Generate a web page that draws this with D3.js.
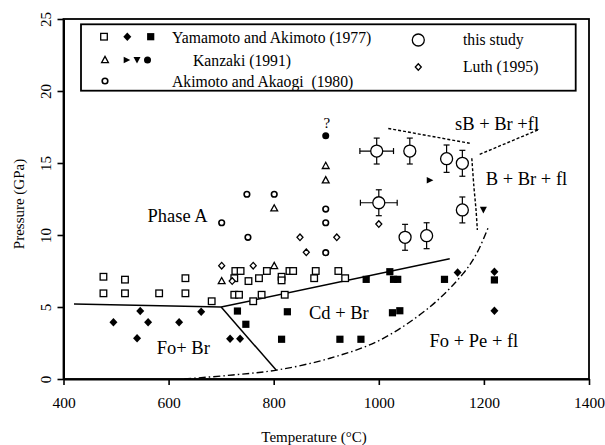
<!DOCTYPE html>
<html><head><meta charset="utf-8">
<script src="https://cdn.jsdelivr.net/npm/d3@7"></script>
<style>body{margin:0;background:#fff}svg{display:block;font-family:"Liberation Serif","Times New Roman",serif}</style>
</head><body><svg id="c" width="605" height="445"></svg>
<script>
// ---- data ----
const xTicks=[400,600,800,1000,1200,1400];
const yTicks=[0,5,10,15,20,25];
const yamaOpenSquares=[[476,7.1],[476,5.95],[517,6.9],[517,5.95],[582,5.95],[632,7.0],[632,5.95],[682,5.4],[725,5.85],[734,5.85],[727,7.5],[737,7.5],[725,7.0],[752,6.8],[761,5.4],[772,7.0],[777,5.85],[787,7.5],[815,7.1],[815,6.85],[821,5.85],[830,7.5],[837,7.5],[877,7.0],[880,7.5],[923,7.5],[936,7.0]];
const yamaDiamonds=[[495,3.94],[546,4.72],[540,2.83],[561,3.94],[620,3.94],[662,4.67],[717,2.8],[736,2.8],[1150,7.4],[1220,7.45],[1220,4.74]];
const yamaFilledSquares=[[731,4.72],[747,3.8],[815,2.76],[826,4.67],[926,2.76],[966,2.76],[976,6.92],[1021,7.45],[1028,6.92],[1036,6.92],[1026,4.6],[1040,4.74],[1125,6.92],[1220,6.88]];
const kanzakiOpenTriangles=[[899,14.8],[899,13.8],[801,11.85],[801,7.85],[701,6.8]];
const kanzakiRightTriangles=[[1097,13.8]];
const kanzakiDownTriangles=[[1199,11.75]];
const kanzakiFilledCircles=[[899,16.9]];
const akimotoOpenCircles=[[749,12.83],[801,12.83],[701,10.85],[899,10.85],[899,11.8],[751,9.84],[899,8.77]];
const luthDiamonds=[[701,7.87],[761,7.87],[850,9.84],[862,8.8],[920,9.84],[721,6.8],[1000,10.76]];
// this study: [T, P, T error, P error]
const thisStudy=[[996,15.83,32,0.9],[1059,15.83,0,0.9],[1129,15.3,0,0.95],[1159,14.98,0,0.9],[1000,12.24,35,0.9],[1159,11.74,0,0.9],[1050,9.84,0,0.9],[1091,9.95,0,0.9]];
// phase boundaries
const solidA=[[420,5.2],[700,5.0]];
const solidB=[[700,5.0],[805,0.6]];
const solidC=[[700,5.0],[1135,8.35]];
const dashDotCurve=[[630,0.0],[722,0.28],[806,0.62],[907,1.44],[1002,2.7],[1097,5.0],[1160,7.3],[1186,8.7],[1208,10.5]];
const dashedTop=[[1018,17.4],[1173,16.37]];
const dashedRight=[[1192,15.6],[1303,17.3]];
const dashedVert=[[1177,15.33],[1181,13.35],[1185,11.74],[1187.5,10.35]];
const regionLabels=[["Phase A",617,10.9],["Fo+ Br",628,1.74],["Cd + Br",924,4.17],["Fo + Pe + fl",1181,2.22],["B + Br + fl",1281,13.47],["sB + Br +fl",1225,17.3],["?",901,17.43]];

// ---- chart ----
const svg=d3.select("#c");
const x=d3.scaleLinear().domain([400,1400]).range([63.5,589]);
const y=d3.scaleLinear().domain([0,25]).range([379,19]);

// frame
svg.append("rect").attr("x",x(400)).attr("y",y(25)).attr("width",x(1400)-x(400)).attr("height",y(0)-y(25))
  .attr("fill","none").attr("stroke","#000").attr("stroke-width",1.8);

const xa=svg.append("g").attr("transform",`translate(0,${y(0)})`)
  .call(d3.axisBottom(x).tickValues(xTicks).tickSize(6).tickSizeOuter(0).tickFormat(d3.format("d")));
xa.select(".domain").attr("stroke-width",2);
xa.selectAll(".tick line").attr("stroke-width",1.6);
xa.selectAll("text").attr("font-size",15.5).attr("font-family","Liberation Serif").attr("fill","#000").attr("y",18).attr("dy","0.71em");

const ya=svg.append("g").attr("transform",`translate(${x(400)},0)`)
  .call(d3.axisLeft(y).tickValues(yTicks).tickSize(6).tickSizeOuter(0));
ya.select(".domain").attr("stroke-width",2);
ya.selectAll(".tick line").attr("stroke-width",1.6);
ya.selectAll("text").attr("font-size",15).attr("font-family","Liberation Serif").attr("fill","#000")
  .attr("transform","rotate(-90)").attr("x",0).attr("y",-13).attr("dy",0).attr("text-anchor","middle");

svg.append("text").attr("transform",`translate(24,204) rotate(-90)`).attr("text-anchor","middle")
  .attr("font-size",15).text("Pressure (GPa)");
svg.append("text").attr("x",314).attr("y",442).attr("text-anchor","middle").attr("font-size",15).text("Temperature (°C)");

// boundaries
const line=d3.line().x(d=>x(d[0])).y(d=>y(d[1]));
const bl=svg.append("g").attr("fill","none").attr("stroke","#000");
[solidA,solidB,solidC].forEach(s=>bl.append("path").attr("d",line(s)).attr("stroke-width",1.5));
bl.append("path").attr("d",line.curve(d3.curveCatmullRom)(dashDotCurve)).attr("stroke-width",1.4).attr("stroke-dasharray","7,3,1.5,3");
const ln2=d3.line().x(d=>x(d[0])).y(d=>y(d[1]));
bl.append("path").attr("d",ln2(dashedTop)).attr("stroke-width",1.4).attr("stroke-dasharray","3,2");
bl.append("path").attr("d",ln2(dashedRight)).attr("stroke-width",1.4).attr("stroke-dasharray","3,2");
bl.append("path").attr("d",ln2.curve(d3.curveCatmullRom)(dashedVert)).attr("stroke-width",1.4).attr("stroke-dasharray","3,2");

// symbols
function sym(g,type,cx,cy){
  const sw=1.3;
  switch(type){
    case "osq": g.append("rect").attr("x",cx-3.3).attr("y",cy-3.3).attr("width",6.6).attr("height",6.6).attr("fill","#fff").attr("stroke","#000").attr("stroke-width",sw);break;
    case "fsq": g.append("rect").attr("x",cx-3.6).attr("y",cy-3.6).attr("width",7.2).attr("height",7.2).attr("fill","#000");break;
    case "fdi": g.append("path").attr("d",`M${cx},${cy-4.2}L${cx+4},${cy}L${cx},${cy+4.2}L${cx-4},${cy}Z`).attr("fill","#000");break;
    case "odi": g.append("path").attr("d",`M${cx},${cy-3.3}L${cx+3},${cy}L${cx},${cy+3.3}L${cx-3},${cy}Z`).attr("fill","#fff").attr("stroke","#000").attr("stroke-width",sw);break;
    case "otr": g.append("path").attr("d",`M${cx},${cy-3.6}L${cx+3.4},${cy+2.6}L${cx-3.4},${cy+2.6}Z`).attr("fill","#fff").attr("stroke","#000").attr("stroke-width",sw);break;
    case "rtr": g.append("path").attr("d",`M${cx-3},${cy-3.3}L${cx+3.6},${cy}L${cx-3},${cy+3.3}Z`).attr("fill","#000");break;
    case "dtr": g.append("path").attr("d",`M${cx-3.5},${cy-3}L${cx+3.5},${cy-3}L${cx},${cy+3.6}Z`).attr("fill","#000");break;
    case "fci": g.append("circle").attr("cx",cx).attr("cy",cy).attr("r",3.5).attr("fill","#000");break;
    case "oci": g.append("circle").attr("cx",cx).attr("cy",cy).attr("r",2.8).attr("fill","#fff").attr("stroke","#000").attr("stroke-width",1.6);break;
    case "big": g.append("circle").attr("cx",cx).attr("cy",cy).attr("r",6).attr("fill","#fff").attr("stroke","#000").attr("stroke-width",1.3);break;
  }
}
const pts=svg.append("g");
const sets=[[yamaOpenSquares,"osq"],[yamaDiamonds,"fdi"],[yamaFilledSquares,"fsq"],[kanzakiOpenTriangles,"otr"],[kanzakiRightTriangles,"rtr"],[kanzakiDownTriangles,"dtr"],[kanzakiFilledCircles,"fci"],[akimotoOpenCircles,"oci"],[luthDiamonds,"odi"]];
sets.forEach(([arr,t])=>arr.forEach(d=>sym(pts,t,x(d[0]),y(d[1]))));

// this study with error bars
const eb=svg.append("g").attr("stroke","#000").attr("stroke-width",1.2);
thisStudy.forEach(d=>{
  const cx=x(d[0]),cy=y(d[1]);
  const y1=y(d[1]+d[3]),y2=y(d[1]-d[3]);
  eb.append("line").attr("x1",cx).attr("x2",cx).attr("y1",y1).attr("y2",y2);
  eb.append("line").attr("x1",cx-3).attr("x2",cx+3).attr("y1",y1).attr("y2",y1);
  eb.append("line").attr("x1",cx-3).attr("x2",cx+3).attr("y1",y2).attr("y2",y2);
  if(d[2]>0){
    const x1=x(d[0]-d[2]),x2=x(d[0]+d[2]);
    eb.append("line").attr("x1",x1).attr("x2",x2).attr("y1",cy).attr("y2",cy);
    eb.append("line").attr("x1",x1).attr("x2",x1).attr("y1",cy-3).attr("y2",cy+3);
    eb.append("line").attr("x1",x2).attr("x2",x2).attr("y1",cy-3).attr("y2",cy+3);
  }
  sym(eb,"big",cx,cy);
});

// region labels
regionLabels.forEach(([t,tx,ty])=>{
  svg.append("text").attr("x",x(tx)).attr("y",y(ty)).attr("text-anchor","middle")
    .attr("font-size",t==="?"?15:18.5).text(t);
});

// legend
const lg=svg.append("g");
lg.append("rect").attr("x",81).attr("y",24.3).attr("width",494.7).attr("height",66.4).attr("fill","#fff").attr("stroke","#000").attr("stroke-width",1.8);
sym(lg,"osq",104,36.7);sym(lg,"fdi",127.3,36.7);sym(lg,"fsq",150.7,36.7);
sym(lg,"otr",105,60);sym(lg,"rtr",126.7,60);sym(lg,"dtr",137,60);sym(lg,"fci",147.5,60);
sym(lg,"oci",105,81);
sym(lg,"big",418.3,40);sym(lg,"odi",418.3,67);
const legendTexts=[["Yamamoto and Akimoto (1977)",172,42.5],["Kanzaki (1991)",193,65.5],["Akimoto and Akaogi  (1980)",172,86.5],["this study",463,45],["Luth (1995)",463,72]];
legendTexts.forEach(([t,tx,ty])=>lg.append("text").attr("x",tx).attr("y",ty).attr("font-size",15.7).attr("xml:space","preserve").style("white-space","pre").text(t));
</script></body></html>
